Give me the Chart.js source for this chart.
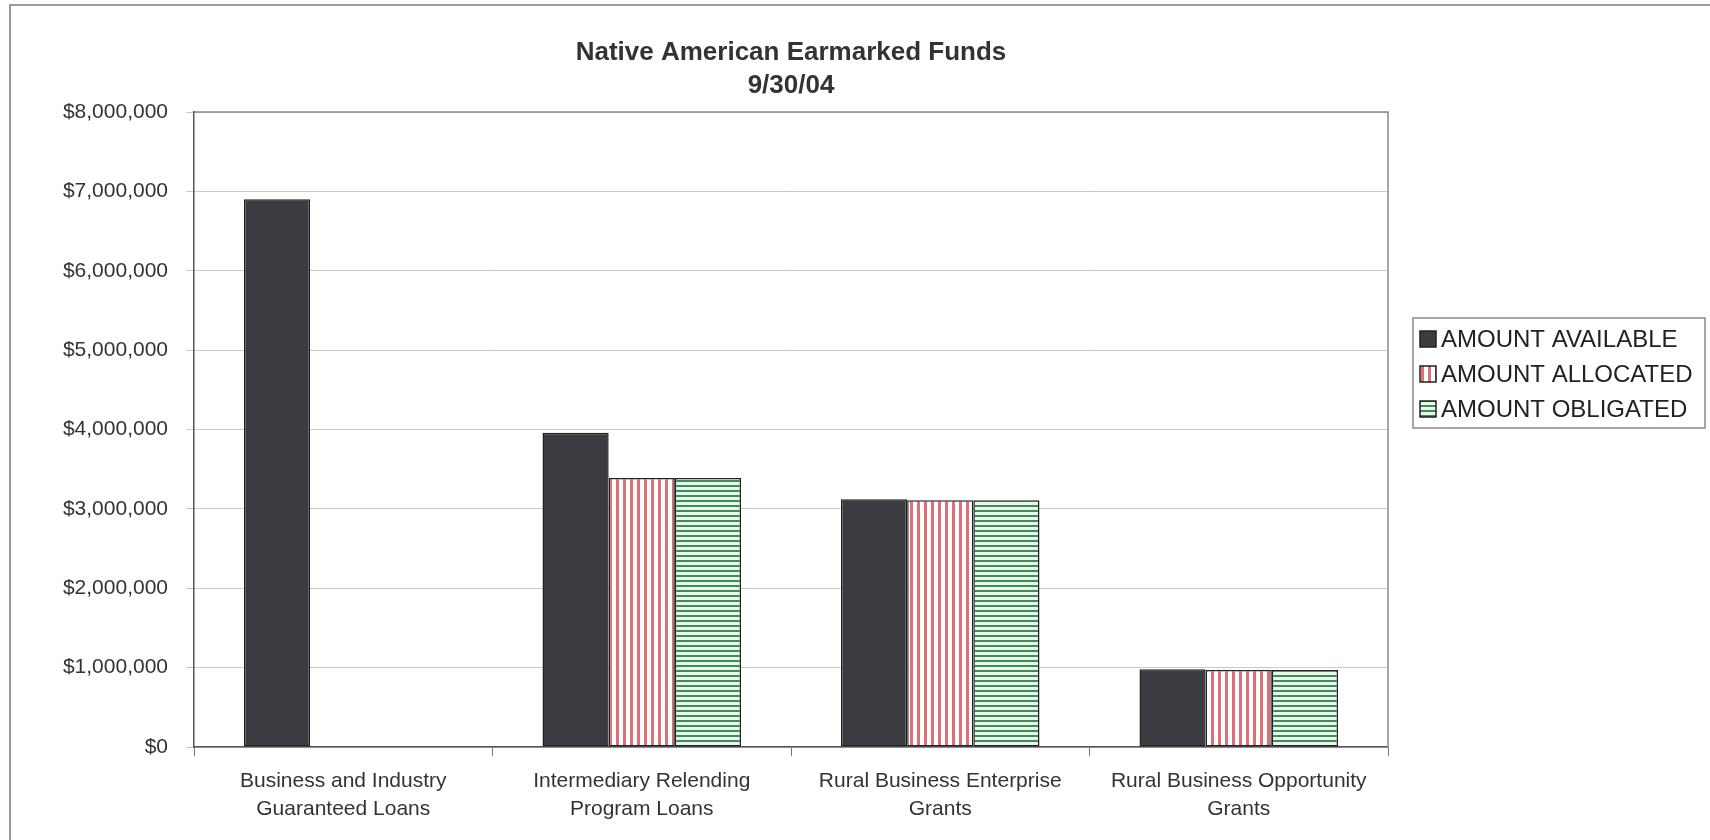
<!DOCTYPE html>
<html>
<head>
<meta charset="utf-8">
<script src="https://cdn.jsdelivr.net/npm/chart.js@4"></script>
<style>
  html, body { margin: 0; background: #fff; }
  #wrap { width: 1710px; height: 840px; }
</style>
</head>
<body>
<div id="wrap"><canvas id="fundsChart" width="1710" height="840"></canvas></div>
<script>
// Categories and series values
const categories = [
  ['Business and Industry', 'Guaranteed Loans'],
  ['Intermediary Relending', 'Program Loans'],
  ['Rural Business Enterprise', 'Grants'],
  ['Rural Business Opportunity', 'Grants']
];
const seriesNames = ['AMOUNT AVAILABLE', 'AMOUNT ALLOCATED', 'AMOUNT OBLIGATED'];
const available = [6900000, 3960000, 3120000, 980000];
const allocated = [0, 3390000, 3110000, 970000];
const obligated = [0, 3390000, 3110000, 970000];
const yMin = 0;
const yMax = 8000000;
const yStep = 1000000;

const FONT = '"Liberation Sans", Arial, sans-serif';

// striped fills
function stripes(vertical, ink, paper, size, band) {
  const c = document.createElement('canvas');
  c.width = vertical ? size : 1;
  c.height = vertical ? 1 : size;
  const g = c.getContext('2d');
  g.fillStyle = paper;
  g.fillRect(0, 0, c.width, c.height);
  g.fillStyle = ink;
  if (vertical) g.fillRect(0, 0, band, 1);
  else g.fillRect(0, 0, 1, band);
  return g.createPattern(c, 'repeat');
}
const darkFill = '#3c3b41';
const redStripes = stripes(true, '#df6f76', '#ffffff', 7, 3);
const greenStripes = stripes(false, '#3d8a5c', '#eaf6ea', 5, 2);

// page frame + plot frame
const frames = {
  id: 'frames',
  beforeDraw(chart) {
    const ctx = chart.ctx;
    ctx.save();
    ctx.fillStyle = '#fff';
    ctx.fillRect(0, 0, chart.width, chart.height);
    ctx.strokeStyle = '#9a9a9a';
    ctx.lineWidth = 2;
    ctx.beginPath();
    ctx.moveTo(10, chart.height);
    ctx.lineTo(10, 5);
    ctx.lineTo(chart.width, 5);
    ctx.stroke();
    ctx.restore();
  },
  afterDraw(chart) {
    const ctx = chart.ctx, a = chart.chartArea;
    ctx.save();
    ctx.strokeStyle = '#8a8a8a';
    ctx.lineWidth = 1.5;
    ctx.beginPath();
    ctx.moveTo(a.left, a.top);
    ctx.lineTo(a.right, a.top);
    ctx.lineTo(a.right, a.bottom);
    ctx.stroke();
    ctx.restore();
  }
};

// boxed legend to the right of the plot
const boxedLegend = {
  id: 'boxedLegend',
  afterDraw(chart) {
    const ctx = chart.ctx, a = chart.chartArea;
    const x = a.right + 25, y = 318, w = 292, h = 110;
    ctx.save();
    ctx.strokeStyle = '#8a8a8a';
    ctx.lineWidth = 1.5;
    ctx.strokeRect(x, y, w, h);
    ctx.font = '24px ' + FONT;
    ctx.textBaseline = 'middle';
    ctx.textAlign = 'left';
    chart.data.datasets.forEach((ds, i) => {
      const cy = y + 21 + i * 35;
      ctx.fillStyle = ds.backgroundColor;
      ctx.fillRect(x + 7, cy - 8, 16, 16);
      ctx.strokeStyle = '#222';
      ctx.lineWidth = 1.5;
      ctx.strokeRect(x + 7, cy - 8, 16, 16);
      ctx.fillStyle = '#222';
      ctx.fillText(ds.label, x + 28, cy + 1);
    });
    ctx.restore();
  }
};

const ctx = document.getElementById('fundsChart').getContext('2d');
const fundsChart = new Chart(ctx, {
  type: 'bar',
  data: {
    labels: categories,
    datasets: [
      { label: seriesNames[0], data: available, backgroundColor: darkFill },
      { label: seriesNames[1], data: allocated, backgroundColor: redStripes },
      { label: seriesNames[2], data: obligated, backgroundColor: greenStripes }
    ].map(d => Object.assign(d, {
      borderColor: '#222',
      borderWidth: 1.5,
      borderSkipped: false,
      categoryPercentage: 0.665,
      barPercentage: 1.0
    }))
  },
  options: {
    responsive: false,
    animation: false,
    layout: { padding: { left: 0, right: 322, top: 0, bottom: 0 } },
    plugins: {
      legend: { display: false },
      tooltip: { enabled: false },
      title: {
        display: true,
        fullSize: false,
        text: ['Native American Earmarked Funds', '9/30/04'],
        color: '#333',
        font: { family: FONT, size: 26, weight: 'bold', lineHeight: 1.25 },
        padding: { top: 37, bottom: 10 }
      }
    },
    scales: {
      x: {
        grid: { drawOnChartArea: false, drawTicks: true, tickLength: 9, color: '#777', offset: true },
        border: { color: '#555', width: 1.5 },
        ticks: {
          color: '#333',
          padding: 11,
          maxRotation: 0,
          autoSkip: false,
          font: { family: FONT, size: 21, lineHeight: 1.35 }
        },
        afterFit(scale) { scale.height = 93; }
      },
      y: {
        min: yMin,
        max: yMax,
        grid: { color: '#c9c9c9', lineWidth: 1, tickLength: 8 },
        border: { color: '#555', width: 1.5 },
        ticks: {
          stepSize: yStep,
          color: '#333',
          padding: 18,
          font: { family: FONT, size: 21 },
          callback: v => '$' + v.toLocaleString('en-US')
        },
        afterFit(scale) { scale.width = 194; }
      }
    }
  },
  plugins: [frames, boxedLegend]
});
</script>
</body>
</html>
